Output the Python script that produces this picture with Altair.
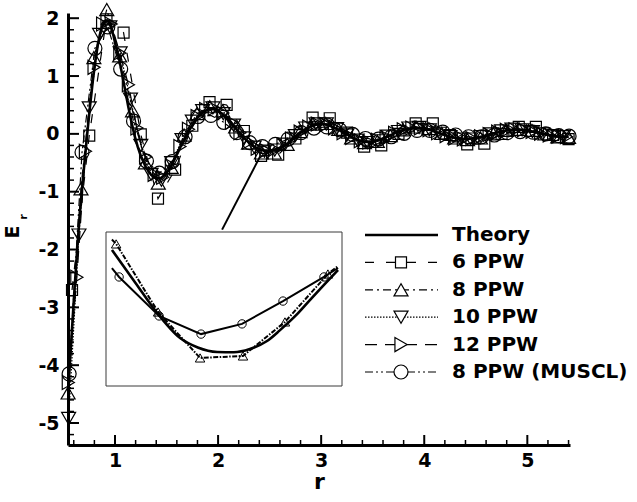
import altair as alt
import pandas as pd

# ---------------- data ----------------
theory_r = [0.545, 0.575, 0.605, 0.635, 0.66, 0.685, 0.71, 0.735, 0.76, 0.785, 0.81, 0.835, 0.86,
            0.885, 0.91, 0.935, 0.96, 0.985, 1.01, 1.04, 1.07, 1.10, 1.13, 1.16, 1.19, 1.22, 1.25,
            1.30, 1.35, 1.40, 1.45, 1.50, 1.55, 1.60, 1.65, 1.70, 1.75, 1.80, 1.85, 1.90, 1.95,
            2.00, 2.05, 2.10, 2.15, 2.20, 2.25, 2.30, 2.35, 2.40, 2.45, 2.50, 2.55, 2.60, 2.65,
            2.70, 2.75, 2.80, 2.85, 2.90, 2.95, 3.00, 3.05, 3.10, 3.15, 3.20, 3.25, 3.30, 3.35,
            3.40, 3.45, 3.50, 3.55, 3.60, 3.65, 3.70, 3.75, 3.80, 3.85, 3.90, 3.95, 4.00, 4.05,
            4.10, 4.15, 4.20, 4.25, 4.30, 4.35, 4.40, 4.45, 4.50, 4.55, 4.60, 4.65, 4.70, 4.75,
            4.80, 4.85, 4.90, 4.95, 5.00, 5.05, 5.10, 5.15, 5.20, 5.25, 5.30, 5.35, 5.40]
theory_e = [-4.45, -3.60, -2.75, -1.95, -1.35, -0.85, -0.38, 0.08, 0.52, 0.92, 1.27, 1.56, 1.77,
            1.90, 1.96, 1.94, 1.85, 1.70, 1.50, 1.30, 1.02, 0.74, 0.46, 0.20, -0.03, -0.22, -0.38,
            -0.58, -0.71, -0.77, -0.76, -0.68, -0.54, -0.36, -0.17, 0.00, 0.15, 0.28, 0.37, 0.42, 0.43,
            0.40, 0.33, 0.24, 0.14, 0.03, -0.07, -0.15, -0.22, -0.27, -0.29, -0.29, -0.28, -0.25, -0.20,
            -0.13, -0.05, 0.02, 0.08, 0.13, 0.16, 0.17, 0.16, 0.13, 0.09, 0.04, -0.01, -0.06, -0.10,
            -0.13, -0.14, -0.13, -0.11, -0.08, -0.04, 0.00, 0.04, 0.07, 0.09, 0.10, 0.10, 0.09, 0.07,
            0.04, 0.01, -0.02, -0.05, -0.07, -0.08, -0.09, -0.08, -0.07, -0.05, -0.03, 0.00, 0.02, 0.04,
            0.06, 0.07, 0.07, 0.07, 0.06, 0.04, 0.02, 0.00, -0.02, -0.04, -0.05, -0.05, -0.05]

ppw6_r = [0.583, 0.750, 0.917, 1.083, 1.250, 1.417, 1.583, 1.750, 1.917, 2.083, 2.250, 2.417,
          2.583, 2.750, 2.917, 3.083, 3.250, 3.417, 3.583, 3.750, 3.917, 4.083, 4.250, 4.417,
          4.583, 4.750, 4.917, 5.083, 5.250, 5.400]
ppw6_e = [-2.70, -0.03, 1.98, 1.75, -0.01, -1.12, -0.62, 0.14, 0.55, 0.50, 0.05, -0.38,
          -0.36, -0.08, 0.28, 0.27, 0.02, -0.22, -0.20, 0.00, 0.18, 0.18, -0.02, -0.18,
          -0.17, 0.00, 0.12, 0.12, -0.02, -0.09]

ppw8_r = [0.545, 0.670, 0.795, 0.920, 1.045, 1.170, 1.295, 1.420, 1.545, 1.670, 1.795, 1.920,
          2.045, 2.170, 2.295, 2.420, 2.545, 2.670, 2.795, 2.920, 3.045, 3.170, 3.295, 3.420,
          3.545, 3.670, 3.795, 3.920, 4.045, 4.170, 4.295, 4.420, 4.545, 4.670, 4.795, 4.920,
          5.045, 5.170, 5.295, 5.400]
ppw8_e = [-4.48, -0.95, 1.32, 2.15, 1.35, 0.40, -0.50, -0.85, -0.58, -0.02, 0.35, 0.47,
          0.40, 0.12, -0.16, -0.33, -0.33, -0.18, 0.04, 0.17, 0.18, 0.08, -0.07, -0.15,
          -0.13, -0.03, 0.07, 0.12, 0.09, 0.01, -0.07, -0.10, -0.07, 0.00, 0.06, 0.08,
          0.06, 0.00, -0.05, -0.06]

ppw10_r = [0.55, 0.65, 0.75, 0.85, 0.95, 1.05, 1.15, 1.25, 1.35, 1.45, 1.55, 1.65, 1.75, 1.85,
           1.95, 2.05, 2.15, 2.25, 2.35, 2.45, 2.55, 2.65, 2.75, 2.85, 2.95, 3.05, 3.15, 3.25,
           3.35, 3.45, 3.55, 3.65, 3.75, 3.85, 3.95, 4.05, 4.15, 4.25, 4.35, 4.45, 4.55, 4.65,
           4.75, 4.85, 4.95, 5.05, 5.15, 5.25, 5.35]
ppw10_e = [-4.92, -1.75, 0.45, 1.72, 1.85, 1.40, 0.60, -0.20, -0.70, -0.80, -0.50, -0.10, 0.22, 0.40,
           0.45, 0.35, 0.15, -0.07, -0.23, -0.30, -0.28, -0.18, -0.03, 0.10, 0.17, 0.17, 0.09, -0.02,
           -0.11, -0.15, -0.12, -0.04, 0.04, 0.10, 0.11, 0.07, 0.01, -0.05, -0.09, -0.09, -0.05, 0.00,
           0.05, 0.08, 0.07, 0.04, 0.00, -0.04, -0.05]

ppw12_r = [0.547, 0.630, 0.713, 0.797, 0.880, 0.963, 1.047, 1.130, 1.213, 1.297, 1.380, 1.463,
           1.547, 1.630, 1.713, 1.797, 1.880, 1.963, 2.047, 2.130, 2.213, 2.297, 2.380, 2.463,
           2.547, 2.630, 2.713, 2.797, 2.880, 2.963, 3.047, 3.130, 3.213, 3.297, 3.380, 3.463,
           3.547, 3.630, 3.713, 3.797, 3.880, 3.963, 4.047, 4.130, 4.213, 4.297, 4.380, 4.463,
           4.547, 4.630, 4.713, 4.797, 4.880, 4.963, 5.047, 5.130, 5.213, 5.297, 5.380]
ppw12_e = [-4.30, -2.48, -0.30, 1.15, 1.90, 1.90, 1.40, 0.85, 0.10, -0.40, -0.70, -0.75,
           -0.55, -0.22, 0.08, 0.30, 0.42, 0.44, 0.36, 0.20, 0.02, -0.14, -0.25, -0.29,
           -0.27, -0.20, -0.09, 0.03, 0.12, 0.17, 0.16, 0.10, 0.02, -0.06, -0.12, -0.14,
           -0.11, -0.06, 0.01, 0.07, 0.10, 0.10, 0.07, 0.02, -0.03, -0.07, -0.09, -0.08,
           -0.05, -0.01, 0.03, 0.06, 0.07, 0.07, 0.04, 0.01, -0.02, -0.04, -0.05]

muscl_r = [0.555, 0.680, 0.805, 0.930, 1.055, 1.180, 1.305, 1.430, 1.555, 1.680, 1.805, 1.930,
           2.055, 2.180, 2.305, 2.430, 2.555, 2.680, 2.805, 2.930, 3.055, 3.180, 3.305, 3.430,
           3.555, 3.680, 3.805, 3.930, 4.055, 4.180, 4.305, 4.430, 4.555, 4.680, 4.805, 4.930,
           5.055, 5.180, 5.305, 5.405]
muscl_e = [-4.15, -0.32, 1.48, 1.85, 1.12, 0.22, -0.47, -0.68, -0.48, -0.05, 0.30, 0.32,
           0.20, 0.02, -0.15, -0.22, -0.18, -0.09, 0.02, 0.10, 0.12, 0.07, -0.01, -0.08,
           -0.09, -0.05, 0.01, 0.06, 0.06, 0.03, -0.02, -0.05, -0.05, -0.02, 0.02, 0.04,
           0.03, 0.00, -0.03, -0.04]

# inset (magnified view of the trough near r = 2.5)
inset_theory_r = [2.158, 2.230, 2.296, 2.366, 2.420, 2.479, 2.530, 2.579, 2.630, 2.671, 2.720, 2.762, 2.800, 2.848]
inset_theory_e = [0.118, -0.015, -0.136, -0.237, -0.275, -0.293, -0.294, -0.281, -0.250, -0.205, -0.145, -0.084, -0.030, 0.037]
inset_ppw8_r = [2.158, 2.171, 2.299, 2.427, 2.558, 2.686, 2.817, 2.848]
inset_ppw8_e = [0.160, 0.142, -0.132, -0.317, -0.309, -0.172, 0.021, 0.053]
inset_ppw8_mark = [0, 1, 1, 1, 1, 1, 1, 0]
inset_muscl_r = [2.158, 2.180, 2.302, 2.430, 2.555, 2.680, 2.805, 2.848]
inset_muscl_e = [0.045, 0.009, -0.148, -0.221, -0.180, -0.088, 0.009, 0.045]
inset_muscl_mark = [0, 1, 1, 1, 1, 1, 1, 0]

connector_r = [2.039, 2.408]
connector_e = [-1.656, -0.389]

x_major = [1, 2, 3, 4, 5]
x_minor = [0.6, 0.8, 1.2, 1.4, 1.6, 1.8, 2.2, 2.4, 2.6, 2.8, 3.2, 3.4, 3.6, 3.8,
           4.2, 4.4, 4.6, 4.8, 5.2, 5.4]
y_major = [-5, -4, -3, -2, -1, 0, 1, 2]
y_minor = [-5.2, -4.8, -4.6, -4.4, -4.2, -3.8, -3.6, -3.4, -3.2, -2.8, -2.6, -2.4, -2.2,
           -1.8, -1.6, -1.4, -1.2, -0.8, -0.6, -0.4, -0.2, 0.2, 0.4, 0.6, 0.8,
           1.2, 1.4, 1.6, 1.8]

legend_labels = ["Theory", "6 PPW", "8 PPW", "10 PPW", "12 PPW", "8 PPW (MUSCL)"]

# ---------------- layout / style ----------------
W, H = 502, 432
X_DOMAIN = [0.544, 5.414]
Y_DOMAIN = [-5.38, 2.09]
INSET_X = [2.14, 2.86]
INSET_Y = [-0.43, 0.19]
FONT = "DejaVu Sans"

xs = alt.Scale(domain=X_DOMAIN, nice=False, zero=False)
ys = alt.Scale(domain=Y_DOMAIN, nice=False, zero=False)
x_axis = alt.Axis(values=x_major, labelExpr="'' + datum.value", ticks=False, grid=False,
                  domainWidth=3, domainColor="black", labelFont=FONT, labelFontWeight="bold",
                  labelFontSize=19, labelColor="black", labelPadding=6, title="r",
                  titleFont=FONT, titleFontSize=22, titleFontWeight="bold", titleColor="black",
                  titlePadding=1)
y_axis = alt.Axis(values=y_major, labelExpr="'' + datum.value", ticks=False, grid=False,
                  domainWidth=3, domainColor="black", labelFont=FONT, labelFontWeight="bold",
                  labelFontSize=19, labelColor="black", labelPadding=9, title="")


def X(f):
    return alt.X(f"{f}:Q", scale=xs, axis=x_axis)


def Y(f):
    return alt.Y(f"{f}:Q", scale=ys, axis=y_axis)


styles = {
    "6 PPW": dict(shape="square", size=121, dash=[9, 12]),
    "8 PPW": dict(shape="triangle-up", size=196, dash=[8, 4, 2, 4]),
    "10 PPW": dict(shape="triangle-down", size=196, dash=[1.5, 1.5]),
    "12 PPW": dict(shape="triangle-right", size=196, dash=[12, 8]),
    "8 PPW (MUSCL)": dict(shape="circle", size=196, dash=[8, 3, 2, 3, 2, 3]),
}
series = {
    "6 PPW": (ppw6_r, ppw6_e),
    "8 PPW": (ppw8_r, ppw8_e),
    "10 PPW": (ppw10_r, ppw10_e),
    "12 PPW": (ppw12_r, ppw12_e),
    "8 PPW (MUSCL)": (muscl_r, muscl_e),
}

main_layers = []
for name, (rr, ee) in series.items():
    st = styles[name]
    df = pd.DataFrame({"r": rr, "e": ee})
    main_layers.append(alt.Chart(df).mark_line(color="black", strokeWidth=1.2, strokeDash=st["dash"])
                       .encode(x=X("r"), y=Y("e")))
    main_layers.append(alt.Chart(df).mark_point(shape=st["shape"], size=st["size"], filled=False,
                                                color="black", strokeWidth=1.2, opacity=1)
                       .encode(x=X("r"), y=Y("e")))

theory_df = pd.DataFrame({"r": theory_r, "e": theory_e})
main_layers.append(alt.Chart(theory_df).mark_line(color="black", strokeWidth=2.6)
                   .encode(x=X("r"), y=Y("e")))

# inward ticks
main_layers.append(alt.Chart(pd.DataFrame({"v": x_major})).mark_rule(color="black", strokeWidth=2)
                   .encode(x=X("v"), y=alt.value(H), y2=alt.value(H - 10)))
main_layers.append(alt.Chart(pd.DataFrame({"v": x_minor})).mark_rule(color="black", strokeWidth=1.5)
                   .encode(x=X("v"), y=alt.value(H), y2=alt.value(H - 5)))
main_layers.append(alt.Chart(pd.DataFrame({"v": y_major})).mark_rule(color="black", strokeWidth=2)
                   .encode(y=Y("v"), x=alt.value(0), x2=alt.value(11)))
main_layers.append(alt.Chart(pd.DataFrame({"v": y_minor})).mark_rule(color="black", strokeWidth=1.5)
                   .encode(y=Y("v"), x=alt.value(0), x2=alt.value(6)))

# connector from inset to the zoomed region
conn_df = pd.DataFrame({"r0": [connector_r[0]], "r1": [connector_r[1]],
                        "e0": [connector_e[0]], "e1": [connector_e[1]]})
main_layers.append(alt.Chart(conn_df).mark_rule(color="black", strokeWidth=2)
                   .encode(x=X("r0"), x2="r1:Q", y=Y("e0"), y2="e1:Q"))

# y title E_r
one = pd.DataFrame({"k": [0]})
main_layers.append(alt.Chart(one).mark_text(text="E", angle=270, font=FONT, fontSize=19,
                                            fontWeight="bold", color="black")
                   .encode(x=alt.value(-55), y=alt.value(219)))
main_layers.append(alt.Chart(one).mark_text(text="r", angle=270, font=FONT, fontSize=11,
                                            fontWeight="bold", color="black")
                   .encode(x=alt.value(-44), y=alt.value(204)))

main = alt.layer(*main_layers)

# ---------------- inset ----------------
ixs = alt.Scale(domain=INSET_X, range=[38, 274], nice=False, zero=False)
iys = alt.Scale(domain=INSET_Y, range=[373, 219], nice=False, zero=False)


def IX(f):
    return alt.X(f"{f}:Q", scale=ixs, axis=None)


def IY(f):
    return alt.Y(f"{f}:Q", scale=iys, axis=None)


frame_df = pd.DataFrame({"x0": [INSET_X[0]], "x1": [INSET_X[1]], "y0": [INSET_Y[0]], "y1": [INSET_Y[1]]})
inset_layers = [
    alt.Chart(frame_df).mark_rect(fill="white", stroke="#3a3a3a", strokeWidth=1)
    .encode(x=IX("x0"), x2="x1:Q", y=IY("y0"), y2="y1:Q")
]
i8 = pd.DataFrame({"r": inset_ppw8_r, "e": inset_ppw8_e, "m": inset_ppw8_mark})
im = pd.DataFrame({"r": inset_muscl_r, "e": inset_muscl_e, "m": inset_muscl_mark})
it = pd.DataFrame({"r": inset_theory_r, "e": inset_theory_e})
inset_layers += [
    alt.Chart(i8).mark_line(color="black", strokeWidth=2, strokeDash=[5, 1.5, 1.5, 1.5])
    .encode(x=IX("r"), y=IY("e")),
    alt.Chart(i8).transform_filter(alt.datum.m == 1)
    .mark_point(shape="triangle-up", size=90, filled=False, color="black", strokeWidth=1, opacity=1)
    .encode(x=IX("r"), y=IY("e")),
    alt.Chart(im).mark_line(color="black", strokeWidth=2)
    .encode(x=IX("r"), y=IY("e")),
    alt.Chart(im).transform_filter(alt.datum.m == 1)
    .mark_point(shape="circle", size=70, filled=False, color="black", strokeWidth=1, opacity=1)
    .encode(x=IX("r"), y=IY("e")),
    alt.Chart(it).mark_line(color="black", strokeWidth=2.6, interpolate="monotone")
    .encode(x=IX("r"), y=IY("e")),
]
inset = alt.layer(*inset_layers)

# ---------------- legend ----------------
leg_df = pd.DataFrame({"label": legend_labels, "row": list(range(len(legend_labels)))})
ly = alt.Y("row:Q", scale=alt.Scale(domain=[0, 5], range=[222, 359], nice=False, zero=False), axis=None)
legend_layers = []
for i, lab in enumerate(legend_labels):
    base = alt.Chart(leg_df).transform_filter(alt.datum.row == i)
    if lab == "Theory":
        legend_layers.append(base.mark_rule(color="black", strokeWidth=2.6)
                             .encode(x=alt.value(297), x2=alt.value(370), y=ly))
    else:
        st = styles[lab]
        legend_layers.append(base.mark_rule(color="black", strokeWidth=1.2, strokeDash=st["dash"])
                             .encode(x=alt.value(297), x2=alt.value(370), y=ly))
        legend_layers.append(base.mark_point(shape=st["shape"], size=st["size"], filled=True,
                                             fill="white", stroke="black", strokeWidth=1.2, opacity=1)
                             .encode(x=alt.value(333), y=ly))
legend_layers.append(alt.Chart(leg_df).mark_text(align="left", baseline="middle", font=FONT,
                                                 fontSize=20, fontWeight="bold", color="black")
                     .encode(x=alt.value(384), y=ly, text="label:N"))
legend = alt.layer(*legend_layers)

chart = (
    alt.layer(main, inset, legend)
    .resolve_scale(x="independent", y="independent")
    .properties(width=W, height=H, autosize=alt.AutoSizeParams(type="none"),
                padding={"left": 68, "top": 13, "right": 67, "bottom": 57}, background="white")
    .configure_view(strokeOpacity=0)
)

chart.save("out.html", embed_options={"renderer": "svg", "actions": False})
